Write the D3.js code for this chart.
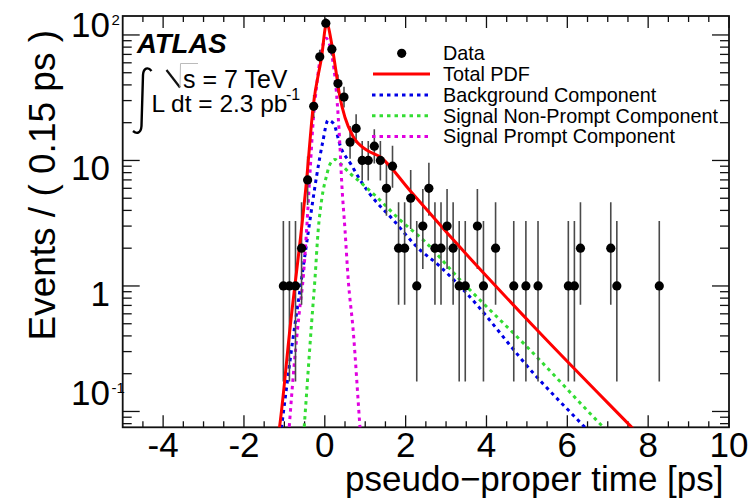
<!DOCTYPE html>
<html>
<head>
<meta charset="utf-8">
<script src="https://cdn.jsdelivr.net/npm/d3@7"></script>
<style>
  html, body { margin: 0; padding: 0; background: #fff; }
  svg { display: block; font-family: "Liberation Sans", Arial, Helvetica, sans-serif; }
</style>
</head>
<body>
<svg id="chart" width="753" height="500"></svg>
<script>
// ---------------- data ----------------
const dataTime  = [-1.025,-0.875,-0.725,-0.575,-0.425,-0.275,-0.125,0.025,0.175,0.325,0.475,0.625,0.775,0.925,
                   1.075,1.225,1.375,1.525,1.675,1.825,1.975,2.125,2.275,2.425,2.575,2.725,2.875,
                   3.025,3.175,3.325,3.475,3.775,3.925,4.225,4.675,4.975,5.275,6.025,6.175,6.325,7.075,7.225,8.275];
const dataCount = [1,1,1,2,7,27,67,124,77,41,32,14,18,10,
                   10,13,10,6,9,2,2,5,1,3,6,2,2,
                   3,2,1,1,3,1,2,1,1,1,1,1,2,2,1,1];
// Poisson (Garwood) error interval table, indexed by count
const poissonN  = [1, 2, 3, 5, 6, 7, 9, 10, 13, 14, 18, 27, 32, 41, 67, 77, 124];
const poissonLo = [0.173, 0.708, 1.367, 2.840, 3.620, 4.419, 6.066, 6.914, 9.446, 10.31, 13.80, 21.84, 26.38, 34.63, 58.84, 68.25, 112.9];
const poissonHi = [3.300, 4.638, 5.918, 8.382, 9.584, 10.77, 13.11, 14.27, 17.69, 18.83, 23.32, 33.26, 38.71, 48.45, 76.22, 86.81, 136.2];

const totalTime  = [-1.18,-1.12,-0.864,-0.45,-0.287,-0.079,0.045,0.168,0.27,0.374,0.5,0.7,1.035,1.364,2.1,3.18,5.24,7.59,7.7];
const totalValue = [0.055,0.075,0.45,7.0,27,67,124,86,53,32,22,15.5,12.1,10.7,5.8,2.33,0.45,0.075,0.069];

const bkgTime  = [-1.12,-1.07,-0.8,-0.6,-0.4,-0.2,-0.05,0.08,0.21,0.4,0.65,0.85,1.116,1.693,2.27,2.85,3.43,5.24,6.43,6.5];
const bkgValue = [0.056,0.075,0.355,1.0,2.82,7.6,14.1,20.9,19.8,12.6,9.3,7.2,5.4,3.36,2.06,1.43,0.93,0.189,0.075,0.071];

const nonPromptTime  = [-0.55,-0.51,-0.327,-0.245,-0.163,-0.08,0.045,0.126,0.25,0.374,0.62,0.87,1.28,1.86,2.52,3.26,3.51,5.0,6.89,7.0];
const nonPromptValue = [0.05,0.075,0.505,1.12,2.79,4.8,7.6,9.3,10.2,9.5,7.9,6.76,5.13,3.36,2.19,1.2,0.99,0.328,0.075,0.069];

const promptTime  = [-0.92,-0.88,-0.75,-0.63,-0.53,-0.45,-0.37,-0.29,-0.2,-0.1,0.03,0.168,0.29,0.374,0.415,0.5,0.58,0.70,0.87,0.91];
const promptValue = [0.05,0.075,0.25,0.62,1.2,2.8,7.6,20,40,69,94,71,34,13.2,7.0,2.79,1.12,0.45,0.075,0.05];

const xMajorTicks = [-4,-2,0,2,4,6,8,10];
const xTickLabels = ["-4","-2","0","2","4","6","8","10"];
const yMajorTicks = [0.1, 1, 10, 100];
const yTickBase   = ["10", "1", "10", "10"];
const yTickExp    = ["-1", "", "", "2"];

const legendLabels = ["Data","Total PDF","Background Component","Signal Non-Prompt Component","Signal Prompt Component"];
const seriesColors = { total: "#ff0000", bkg: "#0000e6", nonPrompt: "#33dd33", prompt: "#e000e0" };

// ---------------- layout ----------------
const svg = d3.select("#chart");
const plot = { left: 122.7, right: 729, top: 16, bottom: 427.3 };
const x = d3.scaleLinear().domain([-5, 10]).range([plot.left, plot.right]);
const y = d3.scaleLog().domain([0.0748, 141.6]).range([plot.bottom, plot.top]);

svg.append("defs").append("clipPath").attr("id", "clip")
  .append("rect").attr("x", plot.left).attr("y", plot.top)
  .attr("width", plot.right - plot.left).attr("height", plot.bottom - plot.top);

const axisColor = "#111";

// minor x ticks every 0.5
const xMinor = d3.range(-4.5, 10, 0.5).filter(v => !xMajorTicks.includes(v));
// y minor ticks 2..9 per decade
const yMinor = [];
[0.01, 0.1, 1, 10, 100].forEach(d => { for (let m = 2; m <= 9; m++) { const v = d * m; if (v >= 0.0748 && v <= 141.6) yMinor.push(v); } });

const ticks = svg.append("g").attr("stroke", axisColor).attr("stroke-width", 1.3);
xMajorTicks.forEach(v => {
  ticks.append("line").attr("x1", x(v)).attr("x2", x(v)).attr("y1", plot.bottom).attr("y2", plot.bottom - 12);
  ticks.append("line").attr("x1", x(v)).attr("x2", x(v)).attr("y1", plot.top).attr("y2", plot.top + 12);
});
xMinor.forEach(v => {
  ticks.append("line").attr("x1", x(v)).attr("x2", x(v)).attr("y1", plot.bottom).attr("y2", plot.bottom - 6);
  ticks.append("line").attr("x1", x(v)).attr("x2", x(v)).attr("y1", plot.top).attr("y2", plot.top + 6);
});
yMajorTicks.forEach(v => {
  ticks.append("line").attr("x1", plot.left).attr("x2", plot.left + 17).attr("y1", y(v)).attr("y2", y(v));
  ticks.append("line").attr("x1", plot.right).attr("x2", plot.right - 17).attr("y1", y(v)).attr("y2", y(v));
});
yMinor.forEach(v => {
  ticks.append("line").attr("x1", plot.left).attr("x2", plot.left + 9).attr("y1", y(v)).attr("y2", y(v));
  ticks.append("line").attr("x1", plot.right).attr("x2", plot.right - 9).attr("y1", y(v)).attr("y2", y(v));
});

// frame
svg.append("rect").attr("x", plot.left).attr("y", plot.top)
  .attr("width", plot.right - plot.left).attr("height", plot.bottom - plot.top)
  .attr("fill", "none").attr("stroke", axisColor).attr("stroke-width", 1.8);

// x tick labels
svg.append("g").selectAll("text").data(xMajorTicks).join("text")
  .attr("x", d => x(d)).attr("y", 457)
  .attr("text-anchor", "middle").attr("font-size", 35).attr("fill", "#000")
  .text((d, i) => xTickLabels[i]);

// y tick labels
const yLabelDy = { "0.1": -6.5, "1": 20, "10": 20, "100": 2 };
const yl = svg.append("g");
yMajorTicks.forEach((v, i) => {
  const t = yl.append("text").attr("x", 110).attr("y", y(v) + yLabelDy[String(v)])
    .attr("text-anchor", "end").attr("font-size", 35).attr("fill", "#000")
    .text(yTickBase[i]);
  if (yTickExp[i]) {
    yl.append("text").attr("x", 111.5).attr("y", y(v) + yLabelDy[String(v)] - 12)
      .attr("font-size", 15).attr("fill", "#000").text(yTickExp[i]);
  }
});

// axis titles
svg.append("text").attr("x", 723.5).attr("y", 491).attr("text-anchor", "end")
  .attr("font-size", 35).attr("fill", "#000").text("pseudo\u2212proper time [ps]");
svg.append("text").attr("transform", "translate(54.5,30) rotate(-90)")
  .attr("text-anchor", "end").attr("font-size", 37).attr("fill", "#000").text("Events / ( 0.15 ps )");

// ---------------- curves ----------------
const g = svg.append("g").attr("clip-path", "url(#clip)");
const lineGen = d3.line().x(d => x(d[0])).y(d => y(d[1])).curve(d3.curveMonotoneX);
const zip = (a, b) => a.map((v, i) => [v, b[i]]);

g.append("path").datum(zip(bkgTime, bkgValue)).attr("d", lineGen)
  .attr("fill", "none").attr("stroke", seriesColors.bkg).attr("stroke-width", 3).attr("stroke-dasharray", "3.5,4");
g.append("path").datum(zip(nonPromptTime, nonPromptValue)).attr("d", lineGen)
  .attr("fill", "none").attr("stroke", seriesColors.nonPrompt).attr("stroke-width", 3).attr("stroke-dasharray", "3.5,4");
g.append("path").datum(zip(promptTime, promptValue)).attr("d", lineGen)
  .attr("fill", "none").attr("stroke", seriesColors.prompt).attr("stroke-width", 3).attr("stroke-dasharray", "3.5,4");

// data error bars and points
const errIdx = c => poissonN.indexOf(c);
g.append("g").selectAll("line").data(dataTime).join("line")
  .attr("x1", d => x(d)).attr("x2", d => x(d))
  .attr("y1", (d, i) => y(poissonLo[errIdx(dataCount[i])]))
  .attr("y2", (d, i) => y(poissonHi[errIdx(dataCount[i])]))
  .attr("stroke", "#4a4a4a").attr("stroke-width", 1.6);

g.append("path").datum(zip(totalTime, totalValue)).attr("d", lineGen)
  .attr("fill", "none").attr("stroke", seriesColors.total).attr("stroke-width", 3);

g.append("g").selectAll("circle").data(dataTime).join("circle")
  .attr("cx", d => x(d)).attr("cy", (d, i) => y(dataCount[i])).attr("r", 4.6).attr("fill", "#000");

// ---------------- legend ----------------
const leg = svg.append("g");
const rowY = i => 53.3 + 20.8 * i;
legendLabels.forEach((lab, i) => {
  leg.append("text").attr("x", 443).attr("y", rowY(i) + 6.8).attr("font-size", 19.8).attr("fill", "#000").text(lab);
});
leg.append("circle").attr("cx", 401.7).attr("cy", rowY(0)).attr("r", 4.6).attr("fill", "#000");
leg.append("line").attr("x1", 373).attr("x2", 430).attr("y1", rowY(1)).attr("y2", rowY(1))
  .attr("stroke", seriesColors.total).attr("stroke-width", 3);
[["bkg", 2], ["nonPrompt", 3], ["prompt", 4]].forEach(([k, i]) => {
  leg.append("line").attr("x1", 372).attr("x2", 430).attr("y1", rowY(i)).attr("y2", rowY(i))
    .attr("stroke", seriesColors[k]).attr("stroke-width", 3).attr("stroke-dasharray", "3.5,4");
});

// ---------------- ATLAS label ----------------
svg.append("text").attr("x", 137).attr("y", 53).attr("font-size", 27.5)
  .attr("font-weight", "bold").attr("font-style", "italic").attr("fill", "#000").text("ATLAS");
// integral sign
svg.append("path").attr("d", "M151.5,71 C148,66.5 143.5,68 143,75 L141.5,126 C141,133 137,134.5 133,131")
  .attr("fill", "none").attr("stroke", "#000").attr("stroke-width", 2.4);
// sqrt sign
svg.append("path").attr("d", "M166.5,70 L180,87.5").attr("stroke", "#111").attr("stroke-width", 2.2).attr("fill", "none");
svg.append("path").attr("d", "M180,87.5 L180.5,63.5 L198,63.5").attr("stroke", "#bbb").attr("stroke-width", 1).attr("fill", "none");
svg.append("text").attr("x", 183).attr("y", 87.5).attr("font-size", 25).attr("fill", "#000").text("s = 7 TeV");
svg.append("text").attr("x", 151.5).attr("y", 111.7).attr("font-size", 24.5).attr("fill", "#000").text("L dt = 2.3 pb");
svg.append("text").attr("x", 286).attr("y", 100).attr("font-size", 16).attr("fill", "#000").text("-1");
</script>
</body>
</html>
